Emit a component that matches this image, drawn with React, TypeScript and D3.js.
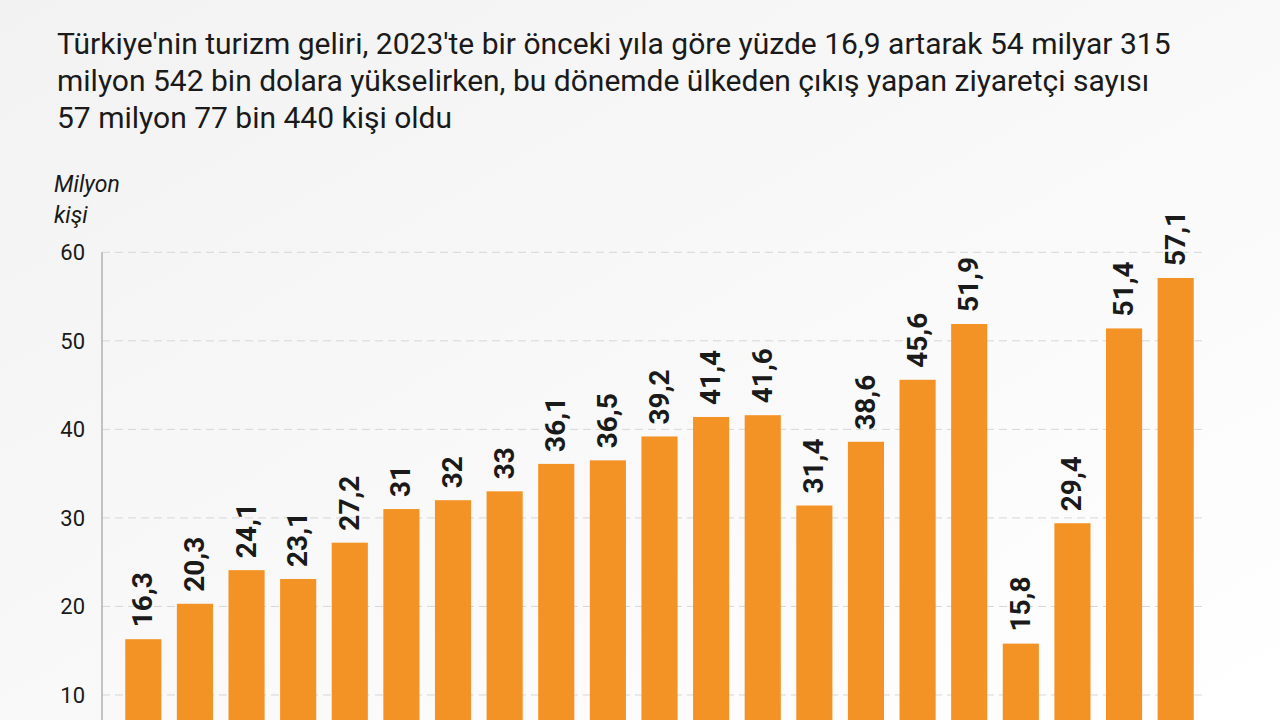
import React from "react";
import * as d3 from "d3";

const years = ["2003","2004","2005","2006","2007","2008","2009","2010","2011","2012","2013","2014","2015","2016","2017","2018","2019","2020","2021","2022","2023"];
const visitors = [16.3,20.3,24.1,23.1,27.2,31,32,33,36.1,36.5,39.2,41.4,41.6,31.4,38.6,45.6,51.9,15.8,29.4,51.4,57.1];
const yTicks = [0,10,20,30,40,50,60];
const titleLines = [
  "Türkiye'nin turizm geliri, 2023'te bir önceki yıla göre yüzde 16,9 artarak 54 milyar 315",
  "milyon 542 bin dolara yükselirken, bu dönemde ülkeden çıkış yapan ziyaretçi sayısı",
  "57 milyon 77 bin 440 kişi oldu",
];
const unitLines = ["Milyon", "kişi"];

export default function App() {
  const W = 1280, H = 720;
  const x = d3.scaleBand().domain(years).range([117.5, 1201.5]).paddingInner(0.3).paddingOuter(0.15);
  const y = d3.scaleLinear().domain([0, 60]).range([783.5, 252.3]);
  const fmt = (v: number) => String(v).replace(".", ",");
  const font = "Roboto, 'Noto Sans', sans-serif";
  return (
    <svg width={W} height={H} style={{ position: "absolute", left: 0, top: 0 }}>
      <defs>
        <linearGradient id="bg" x1="0" y1="0" x2="1" y2="1">
          <stop offset="0" stopColor="#f2f2f2" />
          <stop offset="1" stopColor="#ffffff" />
        </linearGradient>
      </defs>
      <rect width={W} height={H} fill="url(#bg)" />
      <g fontFamily={font} fill="#1a1a1a">
        {titleLines.map((t, i) => (
          <text key={i} x={57} y={54 + i * 37} fontSize={30}>{t}</text>
        ))}
        {unitLines.map((t, i) => (
          <text key={i} x={54} y={192 + i * 31} fontSize={23} fontStyle="italic">{t}</text>
        ))}
      </g>
      {yTicks.filter(t => t > 0).map(t => (
        <g key={t}>
          <line x1={102} x2={1207} y1={y(t)} y2={y(t)} stroke="#d6d6d6" strokeDasharray="8,5" strokeWidth={1} />
          <text x={85} y={y(t)} dy="0.35em" textAnchor="end" fontFamily={font} fontSize={22} fill="#1a1a1a">{t}</text>
        </g>
      ))}
      <line x1={102} x2={102} y1={y(60)} y2={H} stroke="#b0b0b0" strokeWidth={1.5} />
      {years.map((yr, i) => {
        const v = visitors[i];
        const bx = x(yr)!;
        const cx = bx + x.bandwidth() / 2;
        const top = y(v);
        return (
          <g key={yr}>
            <rect x={bx} y={top} width={x.bandwidth()} height={Math.max(0, H - top)} fill="#f39325" />
            <text transform={`translate(${cx + 9},${top - 12}) rotate(-90)`} fontFamily={font} fontWeight="bold" fontSize={28} fill="#1a1a1a">{fmt(v)}</text>
          </g>
        );
      })}
    </svg>
  );
}
